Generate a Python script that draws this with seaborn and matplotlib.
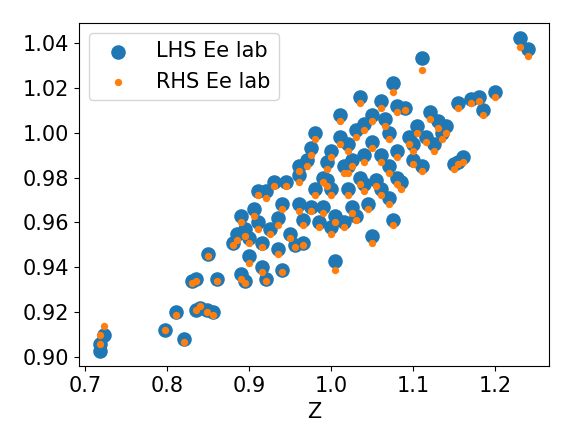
import matplotlib
matplotlib.use("Agg")
import matplotlib.pyplot as plt
import seaborn as sns

# Z values with LHS / RHS electron energy in lab frame
z = [0.718, 0.718, 0.722, 0.797, 0.810, 0.820, 0.830, 0.835, 0.835, 0.840, 0.848, 0.855,
     0.850, 0.860, 0.880, 0.885, 0.890, 0.890, 0.895, 0.895, 0.900, 0.900, 0.905, 0.910,
     0.910, 0.915, 0.915, 0.920, 0.920, 0.925, 0.930, 0.935, 0.935, 0.940, 0.940, 0.945,
     0.950, 0.955, 0.960, 0.960, 0.965, 0.965, 0.970, 0.975, 0.975, 0.980, 0.980, 0.985,
     0.990, 0.990, 0.995, 1.000, 1.000, 1.005, 1.005, 1.010, 1.010, 1.015, 1.015, 1.020,
     1.020, 1.025, 1.025, 1.030, 1.030, 1.035, 1.035, 1.040, 1.040, 1.045, 1.050, 1.050,
     1.055, 1.060, 1.060, 1.065, 1.070, 1.070, 1.075, 1.075, 1.080, 1.080, 1.085, 1.090,
     1.095, 1.100, 1.105, 1.110, 1.110, 1.115, 1.120, 1.125, 1.130, 1.135, 1.140, 1.150,
     1.155, 1.160, 1.155, 1.170, 1.180, 1.185, 1.200, 1.230, 1.240,
     0.960, 0.995, 1.020, 1.040, 1.060, 1.080, 1.100, 1.000, 1.070, 1.050]
lhs = [0.903, 0.906, 0.910, 0.912, 0.920, 0.908, 0.934, 0.935, 0.921, 0.922, 0.921, 0.920,
       0.946, 0.935, 0.951, 0.955, 0.963, 0.937, 0.934, 0.957, 0.953, 0.945, 0.966, 0.974,
       0.960, 0.951, 0.940, 0.935, 0.974, 0.957, 0.978, 0.948, 0.962, 0.968, 0.939, 0.978,
       0.955, 0.950, 0.985, 0.968, 0.961, 0.951, 0.988, 0.967, 0.993, 1.000, 0.975, 0.960,
       0.980, 0.967, 0.987, 0.992, 0.975, 0.963, 0.943, 0.998, 1.008, 0.985, 0.960, 0.975,
       0.995, 0.967, 0.988, 1.001, 0.963, 1.016, 0.980, 0.990, 1.004, 0.968, 0.954, 1.008,
       0.979, 0.990, 1.014, 1.006, 0.985, 0.971, 0.961, 1.022, 0.992, 1.012, 0.978, 1.011,
       0.998, 0.988, 1.003, 0.985, 1.033, 0.998, 1.009, 0.995, 1.005, 1.000, 1.003, 0.986,
       0.987, 0.989, 1.013, 1.015, 1.016, 1.010, 1.018, 1.042, 1.037,
       0.981, 0.979, 0.985, 0.977, 0.975, 0.980, 0.995, 0.958, 1.000, 0.996]
rhs = [0.906, 0.910, 0.914, 0.912, 0.919, 0.907, 0.933, 0.934, 0.921, 0.923, 0.920, 0.919,
       0.945, 0.934, 0.950, 0.952, 0.960, 0.935, 0.933, 0.954, 0.951, 0.942, 0.963, 0.972,
       0.957, 0.949, 0.938, 0.934, 0.971, 0.955, 0.976, 0.946, 0.959, 0.966, 0.938, 0.976,
       0.953, 0.949, 0.983, 0.965, 0.959, 0.950, 0.985, 0.965, 0.990, 0.997, 0.972, 0.958,
       0.978, 0.964, 0.984, 0.989, 0.972, 0.960, 0.939, 0.995, 1.005, 0.982, 0.958, 0.972,
       0.992, 0.964, 0.985, 0.998, 0.961, 1.013, 0.977, 0.987, 1.001, 0.966, 0.951, 1.005,
       0.976, 0.987, 1.011, 1.003, 0.982, 0.968, 0.959, 1.018, 0.989, 1.009, 0.975, 1.010,
       0.995, 0.986, 1.000, 0.983, 1.028, 0.996, 1.006, 0.992, 1.002, 0.997, 1.000, 0.984,
       0.986, 0.987, 1.011, 1.013, 1.014, 1.008, 1.016, 1.038, 1.034,
       0.978, 0.976, 0.982, 0.974, 0.972, 0.977, 0.992, 0.955, 0.997, 0.993]

plt.rcParams["font.size"] = 15
fig, ax = plt.subplots(figsize=(5.72, 4.44), dpi=100)
sns.scatterplot(x=z, y=lhs, s=110, color="#1f77b4", linewidth=0, label="LHS Ee lab", ax=ax)
sns.scatterplot(x=z, y=rhs, s=28, color="#ff7f0e", linewidth=0, label="RHS Ee lab", ax=ax)
ax.set_xlabel("Z")
ax.set_xticks([0.7, 0.8, 0.9, 1.0, 1.1, 1.2])
ax.legend(loc="upper left")
fig.tight_layout()
fig.savefig("out.png", dpi=100)
